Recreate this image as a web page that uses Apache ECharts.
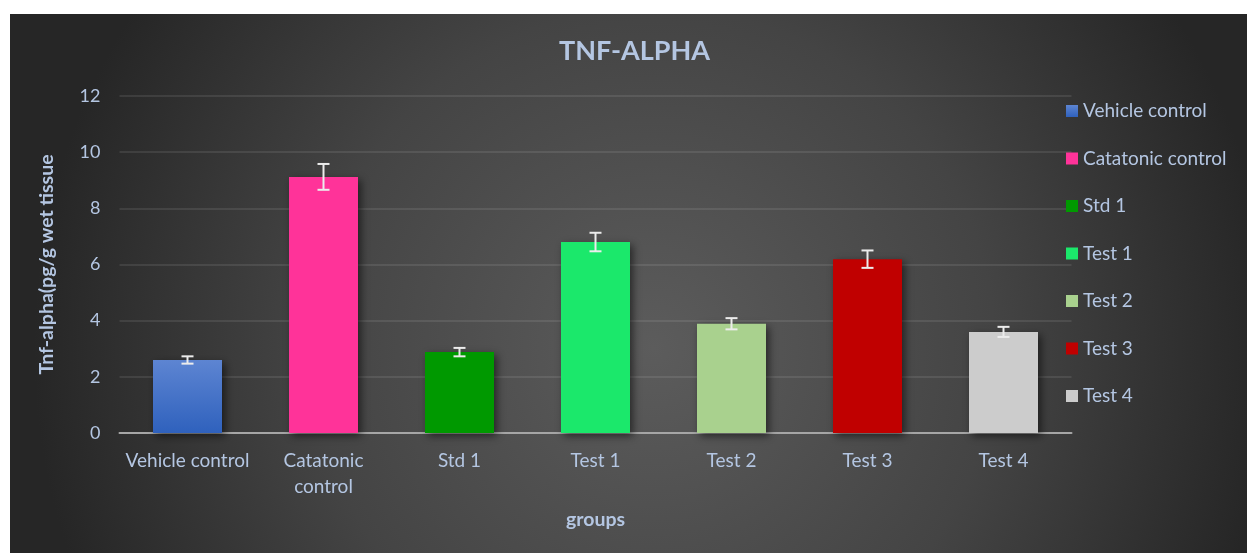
<!DOCTYPE html>
<html>
<head>
<meta charset="utf-8">
<script src="https://cdn.jsdelivr.net/npm/echarts@6/dist/echarts.min.js"></script>
<style>
html,body{margin:0;padding:0;background:#ffffff;width:1247px;height:553px;overflow:hidden;}
#chart{position:absolute;left:10px;top:14px;width:1237px;height:539px;}
</style>
</head>
<body>
<div id="chart"></div>
<script>
const categories = ['Vehicle control', 'Catatonic control', 'Std 1', 'Test 1', 'Test 2', 'Test 3', 'Test 4'];
const axisLabels = ['Vehicle control', 'Catatonic\ncontrol', 'Std 1', 'Test 1', 'Test 2', 'Test 3', 'Test 4'];
const values = [2.6, 9.12, 2.88, 6.8, 3.89, 6.19, 3.6];
const errors = [0.13, 0.46, 0.15, 0.33, 0.2, 0.31, 0.18];
const colors = ['#3a6cc6', '#ff3399', '#009900', '#1be86b', '#a9d18e', '#c00000', '#cccccc'];
const yTicks = [0, 2, 4, 6, 8, 10, 12];

const textColor = '#b4c6e2';
const font = 'Lato, "Open Sans", sans-serif';

const chart = echarts.init(document.getElementById('chart'));

const barSeries = categories.map((name, i) => ({
  name: name,
  type: 'bar',
  stack: 'all',
  barWidth: 69,
  data: categories.map((c, j) => (j === i ? values[i] : '-')),
  itemStyle: {
    color: i === 0 ? new echarts.graphic.LinearGradient(0, 0, 0, 1, [
      { offset: 0, color: '#5d85d2' },
      { offset: 1, color: '#2f61bd' }
    ]) : colors[i],
    shadowBlur: 8,
    shadowColor: 'rgba(0,0,0,0.55)',
    shadowOffsetX: 3,
    shadowOffsetY: 3
  },
  z: 2
}));

const errorSeries = {
  type: 'custom',
  name: 'err',
  z: 5,
  data: values.map((v, i) => [i, v - errors[i], v + errors[i]]),
  renderItem: function (params, api) {
    const x = api.value(0);
    const lo = api.coord([x, api.value(1)]);
    const hi = api.coord([x, api.value(2)]);
    const hw = 6;
    const style = { stroke: '#ececec', lineWidth: 2 };
    return {
      type: 'group',
      children: [
        { type: 'line', shape: { x1: lo[0], y1: lo[1], x2: hi[0], y2: hi[1] }, style: style },
        { type: 'line', shape: { x1: lo[0] - hw, y1: lo[1], x2: lo[0] + hw, y2: lo[1] }, style: style },
        { type: 'line', shape: { x1: hi[0] - hw, y1: hi[1], x2: hi[0] + hw, y2: hi[1] }, style: style }
      ]
    };
  },
  silent: true
};

chart.setOption({
  backgroundColor: new echarts.graphic.RadialGradient(0.52, 0.62, 1.15, [
    { offset: 0, color: '#5c5c5c' },
    { offset: 0.55, color: '#444444' },
    { offset: 1, color: '#262626' }
  ]),
  animation: false,
  title: {
    text: 'TNF-ALPHA',
    left: 549,
    top: 24,
    padding: 0,
    textStyle: { color: textColor, fontSize: 27, fontWeight: 'bold', fontFamily: font }
  },
  legend: {
    orient: 'vertical',
    left: 1056,
    top: 87,
    padding: 0,
    itemWidth: 12,
    itemHeight: 12,
    itemGap: 27.5,
    icon: 'rect',
    data: categories,
    textStyle: { color: textColor, fontSize: 19, fontFamily: font, lineHeight: 20 }
  },
  grid: { left: 109.5, right: 175.5, top: 82, bottom: 120 },
  xAxis: {
    type: 'category',
    data: categories,
    name: 'groups',
    nameLocation: 'middle',
    nameGap: 77,
    nameTextStyle: { color: textColor, fontSize: 19.5, fontWeight: 'bold', fontFamily: font },
    axisLine: { lineStyle: { color: '#a6a6a6', width: 2 } },
    axisTick: { show: false },
    axisLabel: {
      color: textColor, fontSize: 19, fontFamily: font, lineHeight: 26, margin: 15,
      interval: 0,
      formatter: function (v, i) { return axisLabels[i]; }
    },
    splitLine: { show: false }
  },
  yAxis: {
    type: 'value',
    min: 0,
    max: 12,
    interval: 2,
    name: 'Tnf-alpha(pg/g wet tissue',
    nameLocation: 'middle',
    nameGap: 63,
    nameTextStyle: { color: textColor, fontSize: 19.5, fontWeight: 'bold', fontFamily: font },
    axisLine: { show: false },
    axisTick: { show: false },
    axisLabel: {
      color: textColor, fontSize: 18, fontFamily: font, margin: 19,
      formatter: function (v) { return yTicks.indexOf(v) >= 0 ? String(v) : ''; }
    },
    splitLine: { lineStyle: { color: 'rgba(255,255,255,0.12)', width: 1.5 } }
  },
  series: barSeries.concat([errorSeries])
});
</script>
</body>
</html>
